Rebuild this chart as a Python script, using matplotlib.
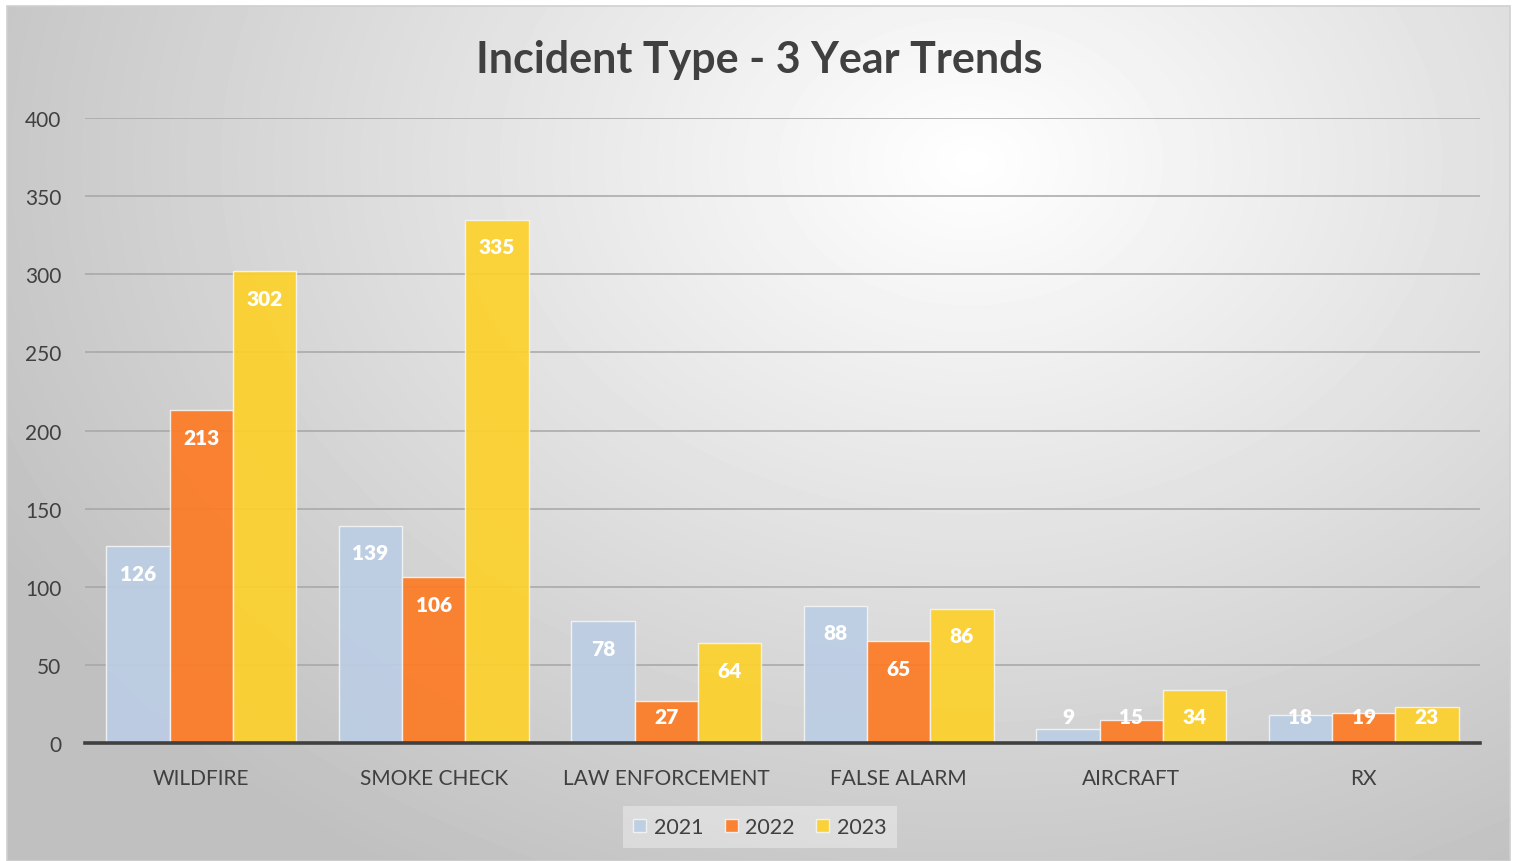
import numpy as np
import matplotlib
matplotlib.use("Agg")
import matplotlib.pyplot as plt
from matplotlib.patches import Rectangle

categories = ["WILDFIRE", "SMOKE CHECK", "LAW ENFORCEMENT", "FALSE ALARM", "AIRCRAFT", "RX"]
years = ["2021", "2022", "2023"]
counts_2021 = [126, 139, 78, 88, 9, 18]
counts_2022 = [213, 106, 27, 65, 15, 19]
counts_2023 = [302, 335, 64, 86, 34, 23]
yticks = [0, 50, 100, 150, 200, 250, 300, 350, 400]

colors = ["#bccde4", "#fd7b24", "#fdd12a"]
series = [counts_2021, counts_2022, counts_2023]

plt.rcParams["font.family"] = ["Lato", "DejaVu Sans"]

W, H = 1515, 862
fig = plt.figure(figsize=(W / 100, H / 100), dpi=100)
fig.patch.set_facecolor("white")

# radial gradient background, inset like the reference frame
bg = fig.add_axes([7 / W, 0, (1510 - 7) / W, (H - 7) / H])
yy, xx = np.mgrid[0:200, 0:350]
cx, cy = 0.64 * 350, 0.18 * 200
d = np.sqrt(((xx - cx) / 260) ** 2 + ((yy - cy) / 195) ** 2)
shade = 1.0 - 0.25 * np.clip(d, 0, 1)
bg.imshow(shade, cmap="gray", vmin=0, vmax=1, aspect="auto",
          extent=[0, 1, 0, 1], interpolation="bicubic")
bg.set_axis_off()
fig.patches.append(Rectangle((7 / W, 0), (1510 - 7) / W, (H - 7) / H,
                             transform=fig.transFigure, fill=False,
                             edgecolor="#d0d0d0", linewidth=1.2))

ax = fig.add_axes([85 / W, 1 - 744 / H, (1480 - 85) / W, (744 - 119) / H])
ax.patch.set_alpha(0)

x = np.arange(len(categories))
width = 0.272
for i, (vals, col, yr) in enumerate(zip(series, colors, years)):
    pos = x + (i - 1) * width
    ax.bar(pos, vals, width=width, color=col, alpha=0.92, edgecolor="#f4f4f4",
           linewidth=1.0, label=yr, zorder=3)
    for px, v in zip(pos, vals):
        ax.annotate(str(v), (px, max(v, 34)), xytext=(0, -19.5),
                    textcoords="offset points", ha="center", va="center",
                    color="white", fontsize=15, fontweight="heavy", zorder=4)

ax.set_xlim(-0.5, len(categories) - 0.5)
ax.set_ylim(0, 400)
ax.set_yticks(yticks)
ax.set_xticks(x)
ax.set_xticklabels(categories)
ax.tick_params(axis="both", length=0, labelsize=15, colors="#404040")
ax.tick_params(axis="y", pad=17)
ax.tick_params(axis="x", pad=18)
ax.grid(axis="y", color="#a6a6a6", linewidth=1.1, zorder=0)
ax.set_axisbelow(True)
for s in ["top", "right", "left"]:
    ax.spines[s].set_visible(False)
ax.spines["bottom"].set_color("#404040")
ax.spines["bottom"].set_linewidth(2.6)
ax.spines["bottom"].set_zorder(5)

fig.text(759 / W, 1 - 60 / H, "Incident Type - 3 Year Trends", ha="center",
         va="center", fontsize=31, fontweight="bold", color="#404040")

leg = fig.legend(loc="center", bbox_to_anchor=(760 / W, 1 - 828 / H), ncol=3,
                 frameon=True, fontsize=15.5, handlelength=0.6, handleheight=0.6,
                 handletextpad=0.35, columnspacing=1.0, borderpad=0.5)
leg.get_frame().set_facecolor("#f3f3f3")
leg.get_frame().set_edgecolor("none")
leg.get_frame().set_alpha(0.45)
leg.get_frame().set_boxstyle("square", pad=0.0)
for t in leg.get_texts():
    t.set_color("#404040")

fig.savefig("out.png", dpi=100)
